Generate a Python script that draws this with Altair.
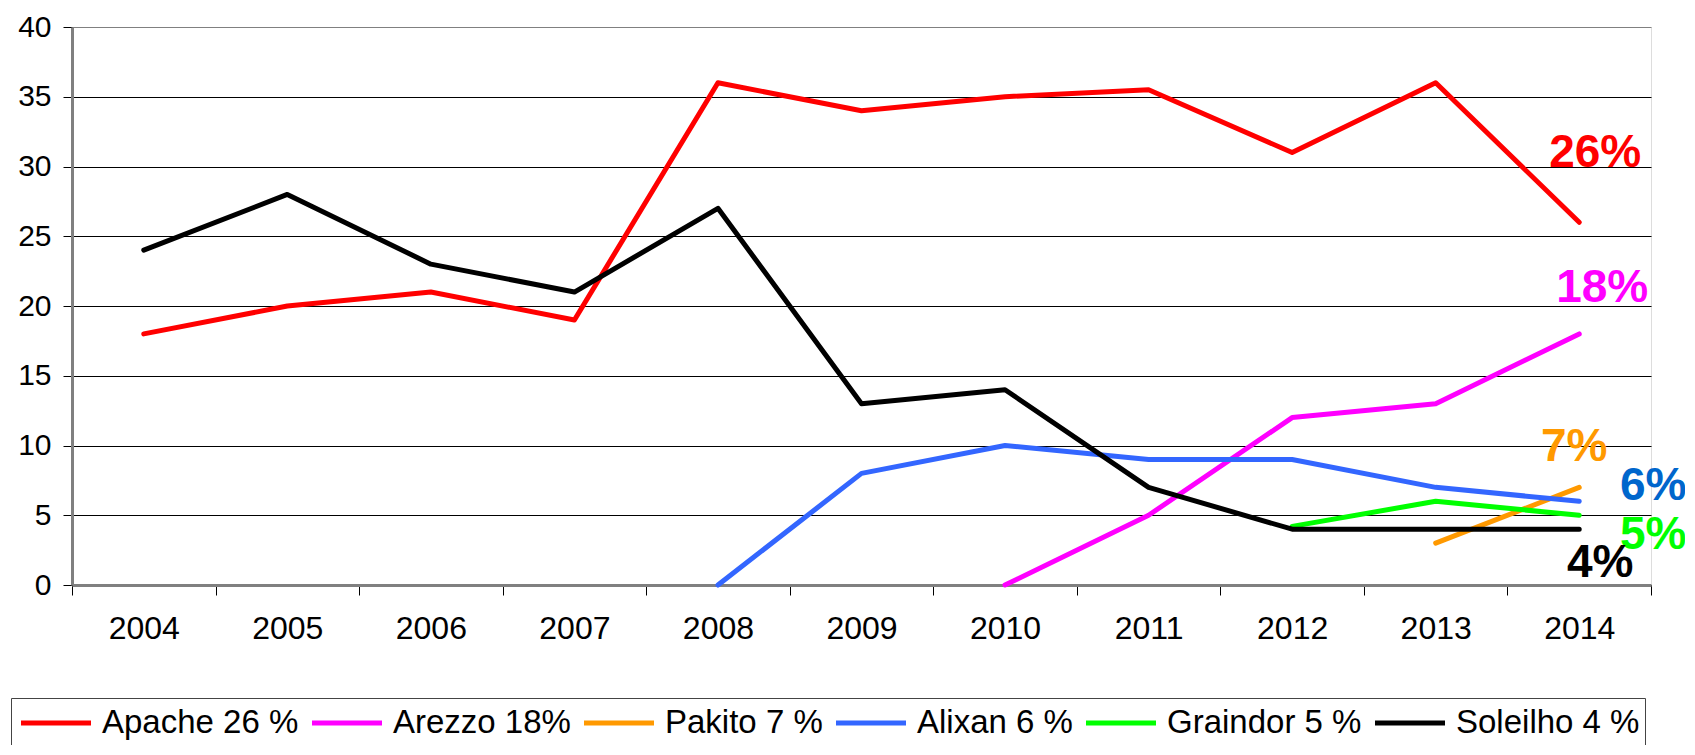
import altair as alt
import pandas as pd

years = ["2004", "2005", "2006", "2007", "2008", "2009", "2010", "2011", "2012", "2013", "2014"]
series_names = ["Apache 26 %", "Arezzo 18%", "Pakito 7 %", "Alixan 6 %", "Graindor 5 %", "Soleilho 4 %"]
series_colors = ["#FF0000", "#FF00FF", "#FF9900", "#3366FF", "#00FF00", "#000000"]
series_widths = [5, 5, 5, 5, 8, 5]

apache = [18, 20, 21, 19, 36, 34, 35, 35.5, 31, 36, 26]
arezzo = [None, None, None, None, None, None, 0, 5, 12, 13, 18]
pakito = [None, None, None, None, None, None, None, None, None, 3, 7]
alixan = [None, None, None, None, 0, 8, 10, 9, 9, 7, 6]
graindor = [None, None, None, None, None, None, None, None, 4.2, 6, 5]
soleilho = [24, 28, 23, 21, 27, 13, 14, 7, 4, 4, 4]
all_series = [apache, arezzo, pakito, alixan, graindor, soleilho]

label_texts = ["26%", "18%", "7%", "6%", "5%", "4%"]
label_colors = ["#FF0000", "#FF00FF", "#FF9900", "#0066CC", "#00FF00", "#000000"]
label_y = [31.0, 21.3, 9.9, 7.1, 3.6, 1.6]
label_dx = [16, 23, -5, 74, 74, 21]

rows = []
for name, vals in zip(series_names, all_series):
    for yr, v in zip(years, vals):
        if v is not None:
            rows.append({"year": yr, "value": v, "series": name})
df = pd.DataFrame(rows)

xscale = alt.Scale(type="band", domain=years, paddingInner=0, paddingOuter=0)
yscale = alt.Scale(domain=[0, 40], nice=False)

x_enc = alt.X(
    "year:O", scale=xscale, title=None,
    axis=alt.Axis(labelAngle=0, tickBand="extent", grid=False, domainColor="#808080",
                  domainWidth=3, tickColor="black", tickSize=10, tickWidth=1,
                  labelFont="Liberation Sans", labelFontSize=32, labelColor="black",
                  labelPadding=18),
)
y_enc = alt.Y(
    "value:Q", scale=yscale, title=None,
    axis=alt.Axis(values=[0, 5, 10, 15, 20, 25, 30, 35, 40], grid=True,
                  gridColor={"condition": {"test": "datum.value === 40", "value": "#808080"}, "value": "#000000"},
                  gridWidth=1, domainColor="#808080", domainWidth=3, tickColor="black",
                  tickSize=9, tickWidth=1, labelFont="Liberation Sans", labelFontSize=30,
                  labelColor="black", labelPadding=12),
)

legend = alt.Legend(
    orient="none", legendX=-61, legendY=671, direction="horizontal", columns=6,
    symbolType="M-2,0H2", symbolSize=1225, symbolOffset=20,
    labelFont="Liberation Sans", labelFontSize=33, labelColor="black",
    labelOffset=26, columnPadding=3, padding=5, fillColor="white",
    strokeColor="#444444", labelLimit=400,
)

lines = alt.Chart(df).mark_line(strokeCap="round", strokeJoin="round").encode(
    x=x_enc,
    y=y_enc,
    color=alt.Color("series:N", title=None,
                    scale=alt.Scale(domain=series_names, range=series_colors), legend=legend),
    strokeWidth=alt.StrokeWidth("series:N", title=None,
                                scale=alt.Scale(domain=series_names, range=series_widths), legend=legend),
)

layers = [lines]
for t, c, yv, dx in zip(label_texts, label_colors, label_y, label_dx):
    ldf = pd.DataFrame({"year": ["2014"], "value": [yv], "t": [t]})
    layers.append(
        alt.Chart(ldf).mark_text(dx=dx, font="Liberation Sans", fontWeight="bold", fontSize=46,
                                 color=c, align="center", baseline="middle")
        .encode(x=alt.X("year:O", scale=xscale), y=alt.Y("value:Q", scale=yscale), text="t:N")
    )

chart = alt.layer(*layers).properties(
    width=1579, height=558,
    autosize=alt.AutoSizeParams(type="none"),
    padding={"left": 64, "top": 19, "right": 34, "bottom": 160},
).configure_view(fill="#FFFFCC", stroke="#808080", strokeWidth=2).configure(background="white")

chart.save("out.html", embed_options={"renderer": "svg", "actions": False})
